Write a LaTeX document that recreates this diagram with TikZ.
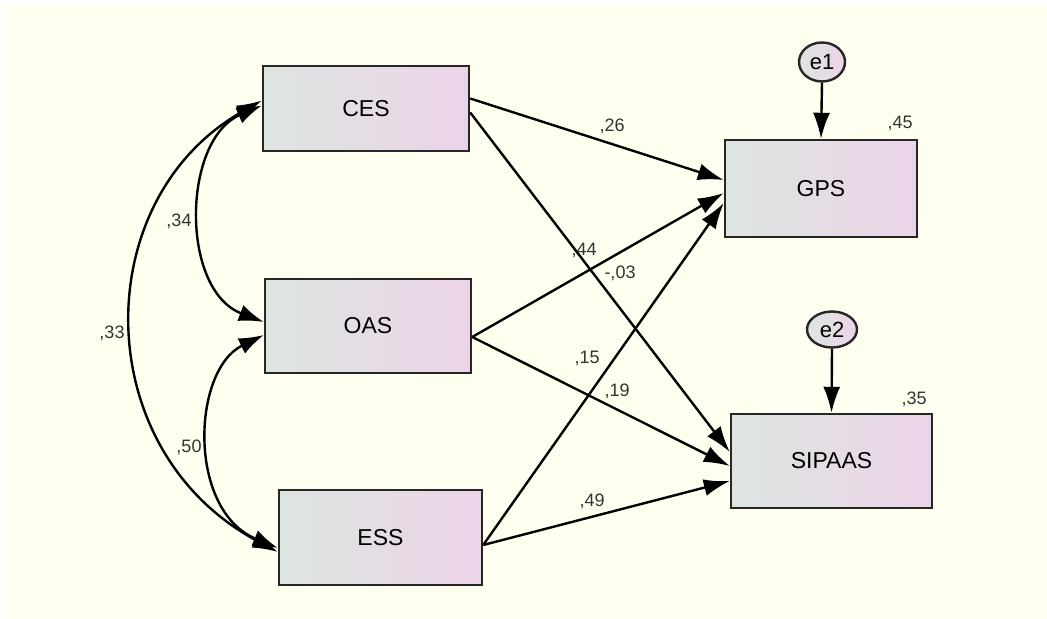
\documentclass[tikz,border=0pt]{standalone}
\usepackage{fontspec}
\setmainfont{Liberation Sans}
\usetikzlibrary{arrows.meta, shapes.geometric}
\definecolor{fond}{RGB}{255,255,240}
\definecolor{boiteg}{RGB}{221,229,225}
\definecolor{boited}{RGB}{236,212,232}
\tikzset{
	boite/.style={draw=black!85, line width=1.2pt, left color=boiteg, right color=boited, font=\fontsize{11.5}{13}\selectfont},
	erreur/.style={ellipse, draw=black!85, line width=1.2pt, left color=boiteg, right color=boited, inner sep=0pt, font=\fontsize{11}{12}\selectfont},
	coef/.style={anchor=base, inner sep=0pt, text=black!80, font=\fontsize{9}{10}\selectfont},
	fleche/.style={-{Latex[length=13pt,width=8.5pt]}, line width=1.2pt},
	cov/.style={{Latex[length=12.5pt,width=8.5pt]}-{Latex[length=12.5pt,width=8.5pt]}, line width=1.2pt}
}
\begin{document}
\begin{tikzpicture}[x=0.5pt, y=-0.5pt]
	\useasboundingbox (0,0) rectangle (1047,619);
	\fill[fond] (6,5) rectangle (1047,619);
	%les variables
	\node[boite, minimum width=103pt, minimum height=42.5pt] (CES) at (366,108.5) {CES};
	\node[boite, minimum width=103pt, minimum height=47pt] (OAS) at (368,326) {OAS};
	\node[boite, minimum width=101.5pt, minimum height=47.5pt] (ESS) at (380.5,537.5) {ESS};
	\node[boite, minimum width=96pt, minimum height=48.5pt] (GPS) at (821,188.5) {GPS};
	\node[boite, minimum width=100.5pt, minimum height=47pt] (SIPAAS) at (831.5,461) {SIPAAS};
	%les erreurs
	\node[erreur, minimum width=23pt, minimum height=19.5pt] (e1) at (822,62) {e1};
	\node[erreur, minimum width=25pt, minimum height=18pt] (e2) at (832,329.5) {e2};
	\draw[fleche] (e1.south) -- (GPS.north);
	\draw[fleche] (e2.south) -- (SIPAAS.north);
	%les effets
	\draw[fleche] ([yshift=5pt]CES.east) -- ([yshift=4.25pt]GPS.west);
	\draw[fleche] ([yshift=-2pt]CES.east) -- ([yshift=4.5pt]SIPAAS.west);
	\draw[fleche] ([yshift=-5.5pt]OAS.east) -- ([yshift=-2.25pt]GPS.west);
	\draw[fleche] ([yshift=-5.5pt]OAS.east) -- ([yshift=-2.5pt]SIPAAS.west);
	\draw[fleche] ([yshift=-3.75pt]ESS.east) -- ([yshift=-7.25pt]GPS.west);
	\draw[fleche] ([yshift=-3.75pt]ESS.east) -- ([yshift=-10pt]SIPAAS.west);
	%les covariances
	\draw[cov] ([yshift=1.5pt]CES.west) .. controls (182,140) and (180,290) .. ([yshift=2pt]OAS.west);
	\draw[cov] ([yshift=-4.5pt]OAS.west) .. controls (192,370) and (187,510) .. ([yshift=-5.25pt]ESS.west);
	\draw[cov] ([yshift=4pt]CES.west) .. controls (88,200) and (88,450) .. ([yshift=-7.25pt]ESS.west);
	%les coefficients
	\node[coef] (c26) at (612,132) {,26};
	\node[coef] (c45) at (900,129) {,45};
	\node[coef] (c44) at (584,256) {,44};
	\node[coef] (c03) at (620,279) {-,03};
	\node[coef] (c15) at (587,364) {,15};
	\node[coef] (c19) at (617,396) {,19};
	\node[coef] (c35) at (914,404) {,35};
	\node[coef] (c49) at (592,506) {,49};
	\node[coef] (c34) at (179,227) {,34};
	\node[coef] (c33) at (112,339) {,33};
	\node[coef] (c50) at (189,452) {,50};
\end{tikzpicture}
\end{document}
